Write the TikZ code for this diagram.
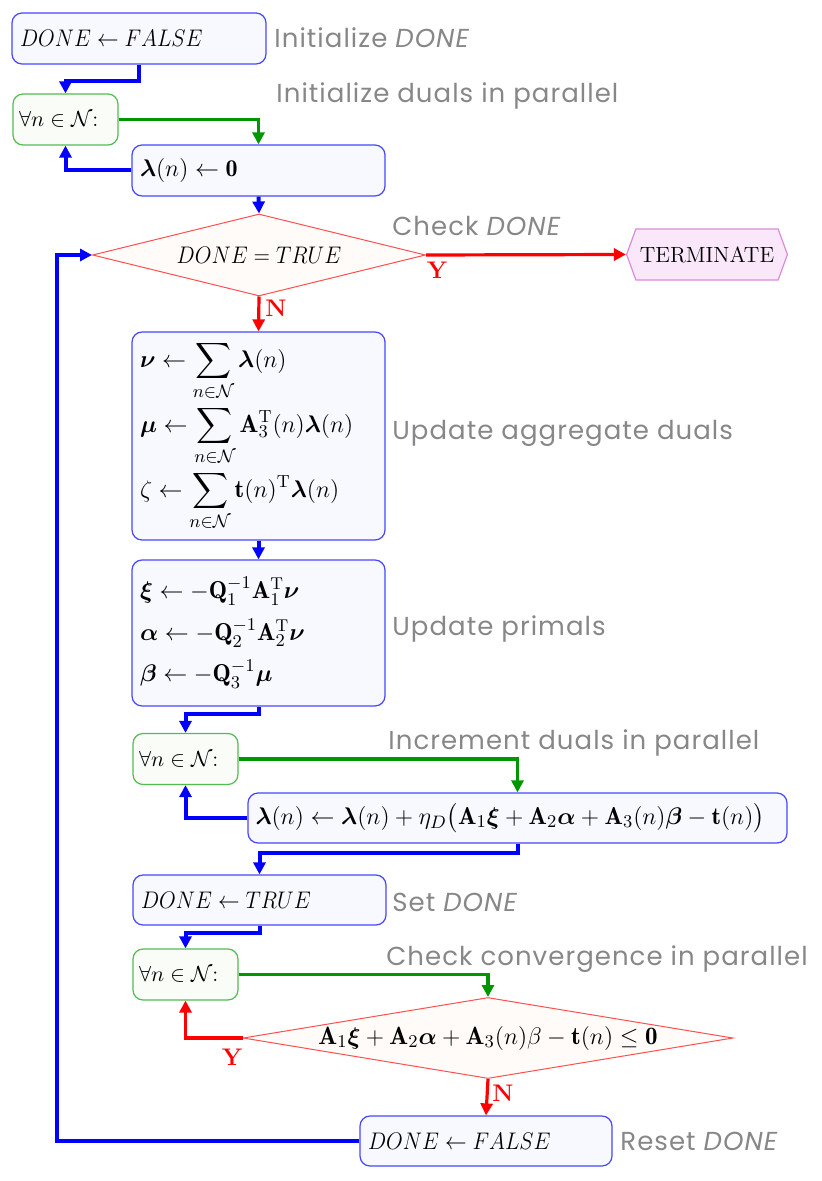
\documentclass[tikz,border=0pt]{standalone}
\usepackage{amsmath,amssymb,bm,graphicx}
\usepackage{fontspec}
\newfontfamily\lblfont{Poppins}[LetterSpace=4]
\usetikzlibrary{shapes.geometric,shapes.symbols,arrows.meta}
\definecolor{boxblue}{RGB}{70,70,255}
\definecolor{boxfill}{RGB}{248,248,255}
\definecolor{gbox}{RGB}{80,190,80}
\definecolor{gfill}{RGB}{250,252,248}
\definecolor{cblue}{RGB}{0,0,255}
\definecolor{cgreen}{RGB}{0,150,0}
\definecolor{cred}{RGB}{255,0,0}
\definecolor{dred}{RGB}{255,80,80}
\definecolor{dfill}{RGB}{255,251,249}
\definecolor{tfill}{RGB}{250,232,250}
\definecolor{tborder}{RGB}{218,140,218}
\definecolor{lblgray}{RGB}{135,135,135}
\newcommand{\narrowmath}[1]{\scalebox{0.9}[1]{$#1$}}
\begin{document}
\begin{tikzpicture}[x=0.5pt,y=-0.5pt,
  bluebox/.style={draw=boxblue, line width=0.6pt, fill=boxfill, rounded corners=5pt,
    inner sep=4pt, align=left, font=\fontsize{12}{14}\selectfont},
  greenbox/.style={draw=gbox, line width=0.6pt, fill=gfill, rounded corners=5pt,
    inner sep=3pt, align=left, minimum height=25.5pt, text width=46.5pt,
    font=\fontsize{11}{14}\selectfont},
  decision/.style={diamond, draw=dred, line width=0.5pt, fill=dfill, inner sep=0pt,
    font=\fontsize{12}{14}\selectfont},
  termbox/.style={signal, signal to=east and west, signal pointer angle=140,
    draw=tborder, line width=0.6pt, fill=tfill, minimum width=79pt, minimum height=25.5pt,
    inner sep=2pt, font=\fontsize{11}{14}\selectfont},
  note/.style={anchor=west, text=lblgray, inner sep=0pt, font=\lblfont\fontsize{13}{15}\selectfont},
  yn/.style={text=cred, inner sep=0pt, font=\bfseries\fontsize{12}{14}\selectfont},
  bconn/.style={draw=cblue, line width=2pt, -{Triangle[length=6pt,width=6pt]}},
  gconn/.style={draw=cgreen, line width=1.75pt, -{Triangle[length=6pt,width=6pt]}},
  rconn/.style={draw=cred, line width=1.6pt, -{Triangle[length=6pt,width=6pt]}}
]
\useasboundingbox (0,0) rectangle (821,1181);

% nodes
\node[bluebox, minimum height=25.5pt, text width=119pt] (init) at (139,38.5)
  {\narrowmath{DONE \leftarrow FALSE}};
\node[greenbox] (g1) at (65.5,119.5) {$\forall n\in\mathcal{N}$:};
\node[bluebox, minimum height=25.5pt, text width=118.5pt] (lam0) at (258.5,170.5)
  {$\bm{\lambda}(n)\leftarrow \mathbf{0}$};
\node[decision, minimum width=166.5pt, minimum height=41pt, shape aspect=4] (d1) at (259,255)
  {\narrowmath{DONE = TRUE}\hspace{8pt}};
\node[termbox] (term) at (707,254.5) {TERMINATE};
\node[bluebox, minimum height=104pt, text width=118.5pt,
  font=\fontsize{12.5}{32.5}\selectfont] (agg) at (258.5,436)
  {$\displaystyle \bm{\nu}\leftarrow\sum_{n\in\mathcal{N}}\bm{\lambda}(n)$\\
   $\displaystyle \bm{\mu}\leftarrow\sum_{n\in\mathcal{N}}\mathbf{A}_3^{\mathrm{T}}(n)\bm{\lambda}(n)$\\
   $\displaystyle \zeta\leftarrow\sum_{n\in\mathcal{N}}\mathbf{t}(n)^{\mathrm{T}}\bm{\lambda}(n)$};
\node[bluebox, minimum height=73pt, text width=118.5pt,
  font=\fontsize{12.2}{20.75}\selectfont] (prim) at (258.5,633)
  {$\bm{\xi}\leftarrow-\mathbf{Q}_1^{-1}\mathbf{A}_1^{\mathrm{T}}\bm{\nu}$\\
   $\bm{\alpha}\leftarrow-\mathbf{Q}_2^{-1}\mathbf{A}_2^{\mathrm{T}}\bm{\nu}$\\
   $\bm{\beta}\leftarrow-\mathbf{Q}_3^{-1}\bm{\mu}$};
\node[greenbox] (g2) at (185.5,759) {$\forall n\in\mathcal{N}$:};
\node[bluebox, minimum height=25pt, text width=262pt, inner sep=3.75pt,
  font=\fontsize{12.2}{14}\selectfont] (incr) at (517.5,818)
  {$\bm{\lambda}(n)\leftarrow\bm{\lambda}(n)+\eta_D\bigl(\mathbf{A}_1\bm{\xi}+\mathbf{A}_2\bm{\alpha}+\mathbf{A}_3(n)\bm{\beta}-\mathbf{t}(n)\bigr)$};
\node[bluebox, minimum height=25pt, text width=118.5pt] (dtrue) at (259.5,900)
  {\narrowmath{DONE \leftarrow TRUE}};
\node[greenbox] (g3) at (185.5,974.5) {$\forall n\in\mathcal{N}$:};
\node[decision, minimum width=245pt, minimum height=40.5pt, shape aspect=6,
  font=\fontsize{12.5}{14}\selectfont] (d2) at (488,1038)
  {$\mathbf{A}_1\bm{\xi}+\mathbf{A}_2\bm{\alpha}+\mathbf{A}_3(n)\beta-\mathbf{t}(n)\le\mathbf{0}$};
\node[bluebox, minimum height=25pt, text width=118pt] (reset) at (486,1141)
  {\narrowmath{DONE \leftarrow FALSE}};

% notes
\node[note] (n1) at (274,38) {Initialize \textit{DONE}};
\node[note] (n2) at (276,96) {Initialize duals in parallel};
\node[note] (n3) at (392,226) {Check \textit{DONE}};
\node[note] (n4) at (392,433) {Update aggregate duals};
\node[note] (n5) at (392,629) {Update primals};
\node[note] (n6) at (388,743) {Increment duals in parallel};
\node[note] (n7) at (392,902) {Set \textit{DONE}};
\node[note] (n8) at (386,959) {Check convergence in parallel};
\node[note] (n9) at (620,1141) {Reset \textit{DONE}};

% connectors
\draw[bconn] (init.south) -- ++(0,16) -| (g1.north);
\draw[gconn] (g1.east) -| (lam0.north);
\draw[bconn] (lam0.west) -| (g1.south);
\draw[bconn] (lam0.south) -- (d1.north);
\draw[rconn] (d1.east) -- (term.west);
\node[yn] (y1) at (437,270) {Y};
\draw[rconn] (d1.south) -- (agg.north);
\node[yn] (nn1) at (276,308) {N};
\draw[bconn] (agg.south) -- (prim.north);
\draw[bconn] (prim.south) -- ++(0,7) -| (g2.north);
\draw[gconn] (g2.east) -| (incr.north);
\draw[bconn] (incr.west) -| (g2.south);
\draw[bconn] (incr.south) -- ++(0,9) -| (dtrue.north);
\draw[bconn] (dtrue.south) -- ++(0,7) -| (g3.north);
\draw[gconn] (g3.east) -| (d2.north);
\draw[rconn] (d2.west) -| (g3.south);
\node[yn] (y2) at (232,1057) {Y};
\draw[rconn] (d2.south) -- (reset.north);
\node[yn] (nn2) at (503,1093) {N};
\coordinate (lp) at (57,1141);
\draw[bconn] (reset.west) -- (lp) |- (d1.west);
\end{tikzpicture}
\end{document}
